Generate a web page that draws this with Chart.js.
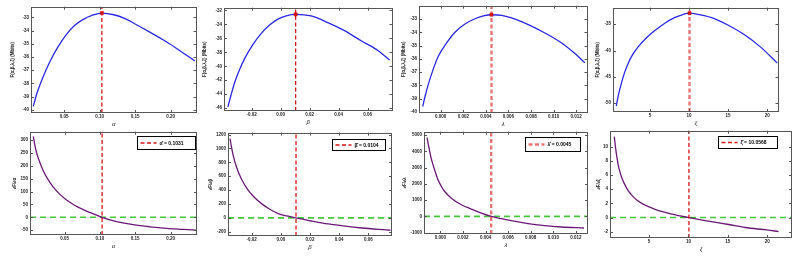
<!DOCTYPE html>
<html>
<head>
<meta charset="utf-8">
<script src="https://cdn.jsdelivr.net/npm/chart.js@4.4.1/dist/chart.umd.min.js"></script>
<style>
body { margin: 0; background: #fff; width: 795px; height: 257px; overflow: hidden; position: relative; }
canvas { position: absolute; }
</style>
</head>
<body>
<script>
// ---- data ----
// optimum points
const optAlpha = 0.1031, optBeta = 0.0104, optLambda = 0.0045, optXi = 10.0568;
const peakF = [-32.67, -32.57, -32.68, -32.9];

// top row: objective vs each parameter
const alphaTopX = [0.0065, 0.012, 0.02, 0.03, 0.04, 0.053, 0.065, 0.077, 0.09, 0.1031, 0.12, 0.135, 0.15, 0.17, 0.194, 0.215, 0.234];
const alphaTopF = [-39.75, -38.7, -37.55, -36.35, -35.35, -34.3, -33.6, -33.15, -32.83, -32.67, -32.8, -33.07, -33.5, -34.1, -34.85, -35.6, -36.3];

const betaTopX = [-0.0363, -0.034, -0.0317, -0.0283, -0.0248, -0.0191, -0.0133, -0.0076, -0.0018, 0.0039, 0.0104, 0.0211, 0.0326, 0.0441, 0.0556, 0.0671, 0.0752];
const betaTopF = [-45.8, -44.0, -42.35, -40.5, -38.9, -36.9, -35.3, -34.1, -33.25, -32.78, -32.57, -32.8, -33.75, -34.9, -36.35, -37.75, -39.1];

const lambdaTopX = [-0.00159, -0.00139, -0.00109, -0.00065, -0.00021, 0.00053, 0.00127, 0.00215, 0.00304, 0.00378, 0.0045, 0.0054, 0.00628, 0.00776, 0.00923, 0.01071, 0.01189, 0.01277];
const lambdaTopF = [-39.58, -38.85, -37.9, -36.75, -35.8, -34.8, -34.0, -33.38, -32.98, -32.77, -32.68, -32.72, -32.92, -33.42, -34.05, -34.8, -35.6, -36.3];

const xiTopX = [0.68, 0.89, 1.32, 1.74, 2.17, 2.81, 3.45, 4.51, 5.57, 6.85, 8.13, 9.19, 10.06, 11.1, 12.8, 14.9, 17.1, 19.2, 21.3];
const xiTopF = [-50.6, -48.9, -46.3, -44.2, -42.55, -40.7, -39.35, -37.6, -36.25, -34.85, -33.75, -33.15, -32.9, -33.1, -33.7, -35.1, -37.0, -39.4, -42.4];

// bottom row: derivative vs each parameter
const alphaBotX = [0.0057, 0.008, 0.0104, 0.0151, 0.0198, 0.0245, 0.034, 0.0434, 0.0528, 0.0646, 0.0764, 0.0882, 0.1031, 0.1118, 0.1236, 0.1472, 0.1708, 0.1943, 0.2179, 0.2358];
const alphaGrad = [315, 279, 250, 212, 181, 156, 117, 89, 67, 46, 30, 16, 0, -8, -17, -29, -37, -43, -47, -50];

const betaBotX = [-0.0349, -0.034, -0.0329, -0.0306, -0.0271, -0.0225, -0.0179, -0.0133, -0.0076, -0.0018, 0.004, 0.0104, 0.0211, 0.0326, 0.0441, 0.0556, 0.0671, 0.0752];
const betaGrad = [1140, 1030, 915, 740, 560, 400, 290, 205, 125, 62, 28, 0, -45, -88, -120, -146, -166, -178];

const lambdaBotX = [-0.00118, -0.00106, -0.00094, -0.0008, -0.00065, -0.00044, -0.00021, 0.00009, 0.00038, 0.00097, 0.00186, 0.00274, 0.00363, 0.0045, 0.0054, 0.00628, 0.00776, 0.00923, 0.01071, 0.01271];
const lambdaGrad = [4837, 4388, 3980, 3531, 3163, 2714, 2245, 1837, 1531, 1122, 714, 449, 200, 0, -143, -265, -449, -571, -653, -714];

const xiBotX = [0.59, 0.76, 0.89, 1.1, 1.31, 1.61, 1.95, 2.37, 2.8, 3.43, 4.07, 4.92, 5.76, 6.82, 7.88, 8.94, 10.06, 12.1, 15.1, 17.2, 19.96, 21.44];
const xiGrad = [11.4, 9.7, 8.7, 7.3, 6.4, 5.4, 4.56, 3.75, 3.16, 2.47, 2.0, 1.53, 1.16, 0.79, 0.47, 0.23, 0, -0.42, -0.98, -1.4, -1.75, -1.97];

// tick labels
const alphaTicks = [0.05, 0.10, 0.15, 0.20];
const betaTicks = [-0.02, 0.00, 0.02, 0.04, 0.06];
const lambdaTicks = [0.000, 0.002, 0.004, 0.006, 0.008, 0.010, 0.012];
const xiTicks = [5, 10, 15, 20];
const fTicksA = [-33, -34, -35, -36, -37, -38, -39, -40];
const fTicksB = [-32, -34, -36, -38, -40, -42, -44, -46];
const fTicksC = [-33, -34, -35, -36, -37, -38, -39, -40];
const fTicksD = [-35, -40, -45, -50];
const gTicksA = [300, 250, 200, 150, 100, 50, 0, -50];
const gTicksB = [1200, 1000, 800, 600, 400, 200, 0, -200];
const gTicksC = [5000, 4000, 3000, 2000, 1000, 0, -1000];
const gTicksD = [10, 8, 6, 4, 2, 0, -2];

// ---- panels: layout and style ----
const BLUE = 'rgb(40,40,225)';
const PURPLE = 'rgb(105,25,115)';
const RED = 'rgb(215,20,20)';
const PINK = 'rgba(225,70,70,0.75)';
const GREEN = 'rgb(70,200,60)';

const panels = [
  { box: [31, 6, 197, 113], x: alphaTopX, y: alphaTopF, opt: optAlpha, peak: peakF[0], xr: [0.0033, 0.2364], yr: [-40.25, -32.19],
    xt: alphaTicks, yt: fTicksA, xd: 2, xl: 'α', yl: 'F(α,β,λ,ξ) (Mbits)', col: BLUE, red: RED, rw: 1.3, ylo: 18 },
  { box: [224, 7, 393, 111], x: betaTopX, y: betaTopF, opt: optBeta, peak: peakF[1], xr: [-0.039, 0.0772], yr: [-46.4, -31.62],
    xt: betaTicks, yt: fTicksB, xd: 2, xl: 'β', yl: 'F(α,β,λ,ξ) (Mbits)', col: BLUE, red: RED, rw: 1.3, ylo: 19 },
  { box: [419, 5, 588, 113], x: lambdaTopX, y: lambdaTopF, opt: optLambda, peak: peakF[2], xr: [-0.00192, 0.0130], yr: [-40.07, -32.0],
    xt: lambdaTicks, yt: fTicksC, xd: 3, xl: 'λ', yl: 'F(α,β,λ,ξ) (Mbits)', col: BLUE, red: PINK, rw: 2.4, ylo: 15 },
  { box: [613, 7, 779, 112], x: xiTopX, y: xiTopF, opt: optXi, peak: peakF[3], xr: [0.26, 21.45], yr: [-51.7, -31.85],
    xt: xiTicks, yt: fTicksD, xd: 0, xl: 'ξ', yl: 'F(α,β,λ,ξ) (Mbits)', col: BLUE, red: PINK, rw: 2.4, ylo: 15 },
  { box: [30, 131, 197, 235], x: alphaBotX, y: alphaGrad, opt: optAlpha, xr: [0.001, 0.2375], yr: [-69, 333],
    xt: alphaTicks, yt: gTicksA, xd: 2, xl: 'α', yl: '∂F/∂α', col: PURPLE, red: RED, rw: 1.3, ylo: 15,
    leg: 'α̂ = ' + optAlpha.toFixed(4), lb: [2, 4, 58, 13] },
  { box: [228, 132, 392, 236], x: betaBotX, y: betaGrad, opt: optBeta, xr: [-0.0363, 0.0763], yr: [-261, 1226],
    xt: betaTicks, yt: gTicksB, xd: 2, xl: 'β', yl: '∂F/∂β', col: PURPLE, red: RED, rw: 1.3, ylo: 17,
    leg: 'β̂ = ' + optBeta.toFixed(4), lb: [7, 6, 53, 11] },
  { box: [424, 131, 588, 234], x: lambdaBotX, y: lambdaGrad, opt: optLambda, xr: [-0.00145, 0.01307], yr: [-1082, 5204],
    xt: lambdaTicks, yt: gTicksC, xd: 3, xl: 'λ', yl: '∂F/∂λ', col: PURPLE, red: PINK, rw: 2.4, ylo: 19,
    leg: 'λ̂ = ' + optLambda.toFixed(4), lb: [8, 5, 55, 14] },
  { box: [610, 130, 792, 238], x: xiBotX, y: xiGrad, opt: optXi, xr: [0.04, 23.14], yr: [-2.88, 12.23],
    xt: xiTicks, yt: gTicksD, xd: 0, xl: 'ξ', yl: '∂F/∂ξ', col: PURPLE, red: RED, rw: 1.3, ylo: 11,
    leg: 'ξ̂ = ' + optXi.toFixed(4), lb: [15, 5, 59, 12] }
];

const YW = 30, XH = 18, PADT = 4, PADR = 4;
const FONT = 'Liberation Sans';

// frame with inward ticks, plus the in-plot legend
const framePlugin = {
  id: 'frame',
  afterDraw(chart) {
    const { ctx, chartArea: a, scales } = chart;
    const p = chart.options.plugins.frame;
    ctx.save();
    ctx.strokeStyle = '#555';
    ctx.lineWidth = 1;
    ctx.beginPath();
    scales.x.ticks.forEach(t => {
      const px = Math.round(scales.x.getPixelForValue(t.value)) + 0.5;
      ctx.moveTo(px, a.bottom); ctx.lineTo(px, a.bottom - 3);
      ctx.moveTo(px, a.top); ctx.lineTo(px, a.top + 3);
    });
    scales.y.ticks.forEach(t => {
      const py = Math.round(scales.y.getPixelForValue(t.value)) + 0.5;
      ctx.moveTo(a.left, py); ctx.lineTo(a.left + 3, py);
      ctx.moveTo(a.right, py); ctx.lineTo(a.right - 3, py);
    });
    ctx.stroke();
    ctx.strokeRect(Math.round(a.left) + 0.5, Math.round(a.top) + 0.5, Math.round(a.right - a.left) - 1, Math.round(a.bottom - a.top) - 1);

    if (p.leg) {
      const [dr, dt, w, h] = p.lb;
      const bx = Math.round(a.right - dr - w) + 0.5, by = Math.round(a.top + dt) + 0.5;
      ctx.fillStyle = '#fff';
      ctx.fillRect(bx, by, w, h);
      ctx.strokeStyle = '#000';
      ctx.strokeRect(bx, by, w, h);
      ctx.strokeStyle = p.red;
      ctx.lineWidth = p.rw;
      ctx.setLineDash([4, 2.5]);
      ctx.beginPath();
      ctx.moveTo(bx + 3, by + h / 2);
      ctx.lineTo(bx + 19, by + h / 2);
      ctx.stroke();
      ctx.setLineDash([]);
      ctx.fillStyle = '#000';
      ctx.font = 'bold 5px "' + FONT + '"';
      ctx.textBaseline = 'middle';
      ctx.fillText(p.leg, bx + 22, by + h / 2 + 0.5);
    }
    ctx.restore();
  }
};

panels.forEach(p => {
  const [L, T, R, B] = p.box;
  const cv = document.createElement('canvas');
  const w = R - L + YW + PADR, h = B - T + PADT + XH;
  cv.width = w; cv.height = h;
  cv.style.left = (L - YW) + 'px';
  cv.style.top = (T - PADT) + 'px';
  document.body.appendChild(cv);

  const datasets = [
    { data: p.x.map((v, i) => ({ x: v, y: p.y[i] })), showLine: true, borderColor: p.col, borderWidth: 1.3,
      pointRadius: 0, cubicInterpolationMode: 'monotone', order: 1 },
    { data: [{ x: p.opt, y: p.yr[0] }, { x: p.opt, y: p.yr[1] }], showLine: true, borderColor: p.red,
      borderWidth: p.rw, borderDash: [4, 2.5], pointRadius: 0, order: 0 }
  ];
  if (p.peak !== undefined) {
    datasets.push({ data: [{ x: p.opt, y: p.peak }], pointStyle: 'rect', pointRadius: 2.2,
      backgroundColor: 'rgb(220,20,20)', borderColor: 'rgb(200,0,0)', borderWidth: 0.5, order: -1 });
  } else {
    datasets.push({ data: [{ x: p.xr[0], y: 0 }, { x: p.xr[1], y: 0 }], showLine: true, borderColor: GREEN,
      borderWidth: 1.6, borderDash: [6, 4], pointRadius: 0, order: 2 });
  }

  new Chart(cv, {
    type: 'scatter',
    data: { datasets },
    options: {
      responsive: false,
      animation: false,
      layout: { padding: { top: PADT, right: PADR, left: 0, bottom: 0 } },
      plugins: {
        legend: { display: false },
        tooltip: { enabled: false },
        frame: { leg: p.leg, lb: p.lb, red: p.red, rw: p.rw }
      },
      scales: {
        x: {
          type: 'linear', min: p.xr[0], max: p.xr[1],
          grid: { display: false, drawTicks: false, tickLength: 0 }, border: { display: false },
          afterBuildTicks: s => { s.ticks = p.xt.map(v => ({ value: v })); },
          afterFit: s => { s.height = XH; },
          ticks: { padding: 1, color: '#222', font: { family: FONT, size: 4.5, weight: 'bold' },
            callback: v => v.toFixed(p.xd) },
          title: { display: true, text: p.xl, color: '#222', padding: { top: 0, bottom: 3 },
            font: { family: FONT, size: 6, style: 'italic' } }
        },
        y: {
          type: 'linear', min: p.yr[0], max: p.yr[1],
          grid: { display: false, drawTicks: false, tickLength: 0 }, border: { display: false },
          afterBuildTicks: s => { s.ticks = p.yt.map(v => ({ value: v })); },
          afterFit: s => { s.width = YW; },
          ticks: { padding: 2, color: '#222', font: { family: FONT, size: 4.5, weight: 'bold' },
            callback: v => String(v) },
          title: { display: true, text: p.yl, color: '#222', padding: { top: YW - p.ylo - 3, bottom: 0 },
            font: { family: FONT, size: 4.5, weight: 'bold' } }
        }
      }
    },
    plugins: [framePlugin]
  });
});
</script>
</body>
</html>
